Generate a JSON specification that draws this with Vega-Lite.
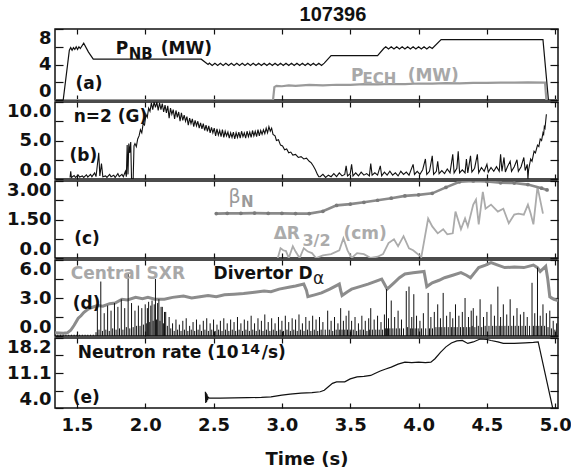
{
  "$schema": "https://vega.github.io/schema/vega-lite/v6.json",
  "title": {"text": "107396", "font": "Liberation Sans", "fontSize": 20, "fontWeight": "bold", "color": "#111", "anchor": "middle", "dx": 44, "offset": 3},
  "padding": {"left": 5, "right": 5, "top": 4, "bottom": 5},
  "spacing": 2,
  "bounds": "flush",
  "config": {
    "view": {"stroke": "#111", "strokeWidth": 1.5},
    "axis": {"domain": false, "grid": false, "tickColor": "#111", "tickWidth": 1.2, "labelFont": "DejaVu Sans", "labelFontWeight": "bold", "labelFontSize": 18, "labelColor": "#111", "titleFont": "DejaVu Sans", "titleFontWeight": "bold", "titleFontSize": 18, "titleColor": "#111"},
    "text": {"font": "DejaVu Sans", "fontWeight": "bold", "fontSize": 17, "align": "left", "baseline": "alphabetic"}
  },
  "datasets": {
    "nb": [
      {"t":1.34,"v":0},{"t":1.40,"v":0},{"t":1.445,"v":5.6},{"t":1.455,"v":5.9},{"t":1.465,"v":5.6},{"t":1.475,"v":5.9},{"t":1.485,"v":5.7},{"t":1.495,"v":6.0},{"t":1.505,"v":5.7},{"t":1.515,"v":6.0},{"t":1.525,"v":5.8},{"t":1.55,"v":6.4},{"t":1.585,"v":5.4},{"t":1.62,"v":4.6},{"t":2.41,"v":4.6},{"t":2.46,"v":4.0},
      {"t":2.47,"v":4.15},{"t":2.49,"v":3.9},{"t":2.51,"v":4.15},{"t":2.53,"v":3.9},{"t":2.55,"v":4.15},{"t":2.57,"v":3.9},{"t":2.59,"v":4.15},{"t":2.61,"v":3.9},{"t":2.63,"v":4.15},{"t":2.65,"v":3.9},{"t":2.67,"v":4.15},{"t":2.69,"v":3.9},{"t":2.71,"v":4.15},{"t":2.73,"v":3.9},{"t":2.75,"v":4.15},{"t":2.77,"v":3.9},{"t":2.79,"v":4.15},{"t":2.81,"v":3.9},{"t":2.83,"v":4.15},{"t":2.85,"v":3.9},{"t":2.87,"v":4.15},{"t":2.89,"v":3.9},{"t":2.91,"v":4.15},{"t":2.93,"v":3.9},{"t":2.95,"v":4.15},{"t":2.97,"v":3.9},{"t":2.99,"v":4.15},{"t":3.01,"v":3.9},{"t":3.03,"v":4.15},{"t":3.05,"v":3.9},{"t":3.07,"v":4.15},{"t":3.09,"v":3.9},{"t":3.11,"v":4.15},{"t":3.13,"v":3.9},{"t":3.15,"v":4.15},{"t":3.17,"v":3.9},{"t":3.19,"v":4.15},{"t":3.21,"v":3.9},{"t":3.23,"v":4.15},{"t":3.25,"v":3.9},{"t":3.27,"v":4.15},{"t":3.29,"v":3.9},{"t":3.31,"v":4.15},
      {"t":3.36,"v":5.0},{"t":3.70,"v":5.0},{"t":3.745,"v":5.8},{"t":3.76,"v":6.0},{"t":3.78,"v":5.75},{"t":3.80,"v":6.0},{"t":3.82,"v":5.75},{"t":3.84,"v":6.0},{"t":3.86,"v":5.75},{"t":3.88,"v":6.0},{"t":3.90,"v":5.75},{"t":3.92,"v":6.0},{"t":3.94,"v":5.75},{"t":3.96,"v":6.0},{"t":3.98,"v":5.75},{"t":4.00,"v":6.0},{"t":4.02,"v":5.75},{"t":4.04,"v":6.0},{"t":4.06,"v":5.75},{"t":4.08,"v":6.0},{"t":4.10,"v":5.8},{"t":4.165,"v":6.8},{"t":4.91,"v":6.8},{"t":4.95,"v":0},{"t":5.02,"v":0}
    ],
    "ech": [
      {"t":1.34,"v":0},{"t":2.935,"v":0},{"t":2.945,"v":1.45},{"t":2.96,"v":1.6},{"t":3.0,"v":1.55},{"t":3.05,"v":1.65},{"t":3.1,"v":1.6},{"t":3.2,"v":1.7},{"t":3.3,"v":1.65},{"t":3.4,"v":1.72},{"t":3.5,"v":1.7},{"t":3.6,"v":1.78},{"t":3.7,"v":1.75},{"t":3.8,"v":1.8},{"t":3.9,"v":1.8},{"t":4.0,"v":1.86},{"t":4.1,"v":1.84},{"t":4.2,"v":1.9},{"t":4.3,"v":1.88},{"t":4.4,"v":1.94},{"t":4.5,"v":1.92},{"t":4.6,"v":1.96},{"t":4.7,"v":1.95},{"t":4.8,"v":1.98},{"t":4.925,"v":1.96},{"t":4.935,"v":0},{"t":5.02,"v":0}
    ],
    "n2": [
      {"t":1.45,"v":0.2},{"t":1.455,"v":1.0},{"t":1.46,"v":0.2},{"t":1.48,"v":0.45},{"t":1.49,"v":0.2},{"t":1.51,"v":0.5},{"t":1.52,"v":0.25},{"t":1.54,"v":0.4},{"t":1.55,"v":0.2},{"t":1.57,"v":0.55},{"t":1.58,"v":0.25},{"t":1.60,"v":0.6},{"t":1.61,"v":0.3},{"t":1.63,"v":0.8},{"t":1.64,"v":0.3},{"t":1.66,"v":3.4},{"t":1.668,"v":0.4},{"t":1.68,"v":2.0},{"t":1.69,"v":0.3},{"t":1.71,"v":0.4},{"t":1.72,"v":0.2},{"t":1.74,"v":0.6},{"t":1.75,"v":0.3},{"t":1.77,"v":0.5},{"t":1.78,"v":0.2},{"t":1.80,"v":0.7},{"t":1.81,"v":0.3},{"t":1.83,"v":0.6},{"t":1.84,"v":0.3},{"t":1.855,"v":1.0},{"t":1.862,"v":0.3},{"t":1.868,"v":4.4},{"t":1.874,"v":0.6},{"t":1.88,"v":4.6},{"t":1.887,"v":3.4},{"t":1.894,"v":4.8},{"t":1.90,"v":0.0},{"t":1.912,"v":0.0},{"t":1.918,"v":4.3},
      {"t":1.925,"v":4.6},{"t":1.935,"v":4.2},{"t":1.945,"v":5.2},{"t":1.955,"v":5.6},{"t":1.965,"v":6.4},{"t":1.975,"v":6.0},{"t":1.985,"v":7.2},{"t":1.995,"v":7.0},{"t":2.005,"v":8.4},{"t":2.015,"v":8.0},{"t":2.025,"v":9.2},{"t":2.035,"v":8.8},{"t":2.045,"v":9.9},{"t":2.055,"v":9.0},{"t":2.065,"v":10.0},{"t":2.075,"v":9.3},{"t":2.085,"v":10.0},{"t":2.095,"v":8.9},{"t":2.105,"v":9.9},{"t":2.115,"v":9.0},{"t":2.125,"v":9.8},{"t":2.135,"v":8.7},{"t":2.145,"v":9.6},{"t":2.155,"v":8.6},{"t":2.165,"v":9.5},{"t":2.175,"v":7.9},{"t":2.185,"v":9.2},{"t":2.195,"v":8.4},{"t":2.205,"v":9.0},{"t":2.215,"v":7.8},{"t":2.225,"v":8.9},{"t":2.235,"v":8.0},{"t":2.245,"v":8.7},{"t":2.255,"v":7.5},{"t":2.265,"v":8.6},{"t":2.275,"v":7.6},{"t":2.285,"v":8.3},{"t":2.295,"v":7.5},{"t":2.305,"v":8.1},{"t":2.315,"v":7.0},{"t":2.325,"v":7.9},{"t":2.335,"v":7.2},{"t":2.345,"v":7.8},{"t":2.355,"v":6.8},{"t":2.365,"v":7.6},{"t":2.375,"v":6.9},{"t":2.385,"v":7.5},{"t":2.395,"v":6.6},{"t":2.405,"v":7.3},{"t":2.415,"v":6.5},{"t":2.425,"v":7.2},{"t":2.435,"v":6.3},{"t":2.445,"v":7.0},{"t":2.455,"v":6.2},{"t":2.465,"v":6.9},{"t":2.475,"v":6.0},{"t":2.485,"v":6.7},{"t":2.495,"v":6.0},{"t":2.505,"v":6.6},{"t":2.515,"v":5.6},{"t":2.525,"v":6.5},{"t":2.535,"v":5.7},{"t":2.545,"v":6.3},{"t":2.555,"v":5.5},{"t":2.565,"v":6.4},{"t":2.575,"v":5.4},{"t":2.585,"v":6.2},{"t":2.595,"v":5.6},{"t":2.605,"v":6.1},{"t":2.615,"v":5.3},{"t":2.625,"v":6.0},{"t":2.635,"v":5.4},{"t":2.645,"v":6.1},{"t":2.655,"v":5.2},{"t":2.665,"v":6.0},{"t":2.675,"v":5.4},{"t":2.685,"v":6.1},{"t":2.695,"v":5.3},{"t":2.705,"v":6.2},{"t":2.715,"v":5.5},{"t":2.725,"v":6.0},{"t":2.735,"v":5.3},{"t":2.745,"v":6.2},{"t":2.755,"v":5.5},{"t":2.765,"v":6.1},{"t":2.775,"v":5.4},{"t":2.785,"v":6.3},{"t":2.795,"v":5.6},{"t":2.805,"v":6.2},{"t":2.815,"v":5.5},{"t":2.825,"v":6.4},{"t":2.835,"v":5.6},{"t":2.845,"v":6.3},{"t":2.855,"v":5.8},{"t":2.865,"v":6.4},{"t":2.875,"v":5.9},{"t":2.885,"v":6.6},{"t":2.895,"v":6.0},{"t":2.905,"v":6.8},{"t":2.915,"v":6.2},{"t":2.925,"v":6.6},{"t":2.935,"v":5.8},{"t":2.95,"v":5.6},{"t":2.96,"v":5.0},{"t":2.975,"v":5.1},{"t":2.99,"v":4.4},{"t":3.005,"v":4.3},{"t":3.02,"v":3.8},{"t":3.035,"v":3.9},{"t":3.05,"v":3.4},{"t":3.065,"v":3.5},{"t":3.08,"v":3.1},{"t":3.10,"v":3.2},{"t":3.12,"v":2.8},{"t":3.14,"v":2.9},{"t":3.16,"v":2.6},{"t":3.18,"v":2.7},{"t":3.20,"v":2.3},{"t":3.215,"v":2.1},{"t":3.23,"v":1.7},{"t":3.245,"v":1.2},{"t":3.26,"v":0.6},{"t":3.27,"v":0.3},
      {"t":3.28,"v":0.3},{"t":3.30,"v":0.6},{"t":3.32,"v":0.2},{"t":3.34,"v":0.5},{"t":3.36,"v":0.3},{"t":3.38,"v":0.7},{"t":3.40,"v":0.3},{"t":3.42,"v":0.8},{"t":3.44,"v":0.4},{"t":3.46,"v":0.6},{"t":3.47,"v":1.7},{"t":3.48,"v":0.4},{"t":3.50,"v":0.7},{"t":3.51,"v":1.9},{"t":3.52,"v":0.4},{"t":3.54,"v":0.8},{"t":3.56,"v":0.4},{"t":3.58,"v":0.9},{"t":3.60,"v":0.5},{"t":3.62,"v":0.7},{"t":3.64,"v":0.4},{"t":3.65,"v":2.0},{"t":3.66,"v":0.5},{"t":3.68,"v":0.8},{"t":3.70,"v":0.5},{"t":3.72,"v":1.7},{"t":3.73,"v":0.4},{"t":3.75,"v":0.9},{"t":3.77,"v":0.5},{"t":3.79,"v":1.0},{"t":3.81,"v":0.5},{"t":3.83,"v":0.8},{"t":3.85,"v":0.4},{"t":3.87,"v":1.0},{"t":3.89,"v":0.6},{"t":3.91,"v":0.9},{"t":3.93,"v":0.5},{"t":3.96,"v":1.9},{"t":3.97,"v":0.6},{"t":3.99,"v":1.0},{"t":4.01,"v":0.6},{"t":4.03,"v":1.2},{"t":4.05,"v":2.6},{"t":4.06,"v":0.6},{"t":4.08,"v":1.0},{"t":4.10,"v":3.0},{"t":4.11,"v":0.6},{"t":4.13,"v":1.0},{"t":4.14,"v":2.3},{"t":4.15,"v":0.7},{"t":4.17,"v":1.1},{"t":4.19,"v":0.7},{"t":4.21,"v":1.3},{"t":4.23,"v":0.8},{"t":4.25,"v":3.2},{"t":4.26,"v":0.8},{"t":4.28,"v":1.4},{"t":4.29,"v":3.6},{"t":4.30,"v":0.8},{"t":4.32,"v":1.2},{"t":4.34,"v":0.8},{"t":4.35,"v":2.6},{"t":4.36,"v":0.8},{"t":4.38,"v":3.0},{"t":4.39,"v":0.9},{"t":4.41,"v":1.4},{"t":4.43,"v":3.2},{"t":4.44,"v":0.8},{"t":4.46,"v":1.5},{"t":4.48,"v":1.0},{"t":4.50,"v":1.9},{"t":4.51,"v":0.9},{"t":4.53,"v":1.5},{"t":4.55,"v":1.0},{"t":4.57,"v":1.6},{"t":4.59,"v":1.0},{"t":4.60,"v":3.2},{"t":4.61,"v":1.0},{"t":4.625,"v":2.8},{"t":4.635,"v":0.9},{"t":4.65,"v":1.6},{"t":4.67,"v":2.3},{"t":4.68,"v":1.0},{"t":4.70,"v":1.6},{"t":4.72,"v":2.5},{"t":4.73,"v":1.0},{"t":4.75,"v":1.6},{"t":4.77,"v":2.8},{"t":4.78,"v":1.1},{"t":4.795,"v":1.9},{"t":4.80,"v":0.0},{"t":4.805,"v":1.2},{"t":4.82,"v":2.6},{"t":4.83,"v":2.3},{"t":4.845,"v":3.6},{"t":4.855,"v":3.4},{"t":4.87,"v":4.4},{"t":4.88,"v":4.2},{"t":4.89,"v":5.2},{"t":4.90,"v":5.0},{"t":4.91,"v":6.0},{"t":4.915,"v":5.8},{"t":4.92,"v":6.8},{"t":4.925,"v":6.6},{"t":4.93,"v":7.5},{"t":4.935,"v":8.4}
    ],
    "bn": [
      {"t":2.52,"v":1.73},{"t":2.6,"v":1.74},{"t":2.7,"v":1.74},{"t":2.8,"v":1.75},{"t":2.9,"v":1.74},{"t":3.0,"v":1.74},{"t":3.1,"v":1.73},{"t":3.2,"v":1.73},{"t":3.3,"v":1.82},{"t":3.4,"v":2.05},{"t":3.5,"v":2.1},{"t":3.6,"v":2.17},{"t":3.7,"v":2.25},{"t":3.8,"v":2.33},{"t":3.9,"v":2.42},{"t":4.0,"v":2.46},{"t":4.1,"v":2.52},{"t":4.2,"v":2.75},{"t":4.3,"v":2.97},{"t":4.4,"v":3.0},{"t":4.5,"v":2.98},{"t":4.6,"v":2.93},{"t":4.7,"v":2.92},{"t":4.8,"v":2.86},{"t":4.9,"v":2.72},{"t":4.94,"v":2.65}
    ],
    "dr": [
      {"t":2.97,"v":0.0},{"t":2.99,"v":0.38},{"t":3.01,"v":0.3},{"t":3.03,"v":0.27},{"t":3.05,"v":0.0},{"t":3.08,"v":0.46},{"t":3.10,"v":0.25},{"t":3.13,"v":0.0},{"t":3.16,"v":0.38},{"t":3.19,"v":0.25},{"t":3.22,"v":0.19},{"t":3.25,"v":0.0},{"t":3.30,"v":0.1},{"t":3.36,"v":0.15},{"t":3.42,"v":0.3},{"t":3.45,"v":0.77},{"t":3.48,"v":0.3},{"t":3.51,"v":0.0},{"t":3.55,"v":0.19},{"t":3.60,"v":0.15},{"t":3.65,"v":0.0},{"t":3.70,"v":0.05},{"t":3.74,"v":0.15},{"t":3.78,"v":0.58},{"t":3.82,"v":0.73},{"t":3.85,"v":0.46},{"t":3.89,"v":0.85},{"t":3.93,"v":0.38},{"t":3.96,"v":0.3},{"t":4.02,"v":0.04},{"t":4.07,"v":1.54},{"t":4.10,"v":1.23},{"t":4.14,"v":0.96},{"t":4.18,"v":1.12},{"t":4.21,"v":0.92},{"t":4.25,"v":0.96},{"t":4.27,"v":1.81},{"t":4.31,"v":1.12},{"t":4.34,"v":1.54},{"t":4.36,"v":1.23},{"t":4.40,"v":2.08},{"t":4.42,"v":2.27},{"t":4.44,"v":1.31},{"t":4.47,"v":2.58},{"t":4.49,"v":1.92},{"t":4.53,"v":2.08},{"t":4.58,"v":1.81},{"t":4.62,"v":1.92},{"t":4.66,"v":1.35},{"t":4.70,"v":1.69},{"t":4.73,"v":1.73},{"t":4.77,"v":1.69},{"t":4.80,"v":2.08},{"t":4.82,"v":1.73},{"t":4.84,"v":1.31},{"t":4.87,"v":2.77},{"t":4.91,"v":1.73}
    ],
    "sxr": [
      {"t":1.34,"v":0.25},{"t":1.40,"v":0.22},{"t":1.43,"v":0.25},{"t":1.455,"v":0.45},{"t":1.48,"v":0.85},{"t":1.51,"v":1.4},{"t":1.53,"v":1.6},{"t":1.55,"v":1.85},{"t":1.58,"v":2.1},{"t":1.61,"v":2.25},{"t":1.65,"v":2.4},{"t":1.69,"v":2.35},{"t":1.74,"v":2.55},{"t":1.78,"v":2.6},{"t":1.83,"v":2.9},{"t":1.87,"v":2.85},{"t":1.93,"v":3.05},{"t":1.98,"v":2.95},{"t":2.02,"v":3.05},{"t":2.07,"v":2.9},{"t":2.14,"v":2.9},{"t":2.20,"v":3.05},{"t":2.28,"v":3.15},{"t":2.34,"v":3.0},{"t":2.40,"v":3.1},{"t":2.46,"v":3.2},{"t":2.52,"v":3.1},{"t":2.58,"v":3.25},{"t":2.65,"v":3.3},{"t":2.72,"v":3.35},{"t":2.80,"v":3.45},{"t":2.87,"v":3.55},{"t":2.92,"v":3.5},{"t":2.98,"v":3.7},{"t":3.05,"v":3.85},{"t":3.10,"v":3.95},{"t":3.16,"v":4.1},{"t":3.18,"v":3.6},{"t":3.19,"v":3.1},{"t":3.24,"v":3.25},{"t":3.29,"v":3.4},{"t":3.35,"v":3.7},{"t":3.42,"v":4.1},{"t":3.43,"v":3.6},{"t":3.44,"v":3.2},{"t":3.48,"v":3.5},{"t":3.51,"v":3.7},{"t":3.57,"v":3.9},{"t":3.63,"v":4.1},{"t":3.68,"v":4.3},{"t":3.73,"v":4.5},{"t":3.75,"v":4.1},{"t":3.77,"v":3.7},{"t":3.82,"v":4.2},{"t":3.86,"v":4.6},{"t":3.90,"v":4.9},{"t":3.96,"v":5.0},{"t":4.04,"v":5.1},{"t":4.05,"v":4.5},{"t":4.06,"v":3.9},{"t":4.10,"v":4.2},{"t":4.15,"v":4.4},{"t":4.19,"v":4.6},{"t":4.25,"v":4.8},{"t":4.31,"v":5.0},{"t":4.35,"v":4.8},{"t":4.38,"v":4.6},{"t":4.41,"v":5.0},{"t":4.44,"v":5.4},{"t":4.49,"v":5.6},{"t":4.53,"v":5.8},{"t":4.58,"v":5.6},{"t":4.63,"v":5.4},{"t":4.70,"v":5.45},{"t":4.77,"v":5.4},{"t":4.84,"v":5.6},{"t":4.87,"v":5.4},{"t":4.89,"v":5.1},{"t":4.91,"v":5.3},{"t":4.93,"v":5.5},{"t":4.945,"v":4.5},{"t":4.96,"v":3.1},{"t":4.99,"v":2.9},{"t":5.02,"v":2.8}
    ],
    "da": [
      {"t":1.34,"v":0.1},{"t":1.36,"v":0.1},{"t":1.38,"v":0.1},{"t":1.40,"v":0.1},{"t":1.42,"v":0.1},{"t":1.44,"v":0.1},{"t":1.46,"v":0.1},{"t":1.48,"v":0.1},{"t":1.50,"v":0.1},{"t":1.52,"v":0.1},{"t":1.54,"v":0.1},{"t":1.56,"v":0.1},{"t":1.58,"v":0.1},{"t":1.60,"v":0.1},{"t":1.62,"v":0.1},{"t":1.64,"v":0.3},
      {"t":1.650,"v":2.3},{"t":1.662,"v":0.5},{"t":1.675,"v":4.3},{"t":1.687,"v":0.4},{"t":1.700,"v":1.8},{"t":1.712,"v":0.5},{"t":1.725,"v":2.4},{"t":1.737,"v":0.4},{"t":1.750,"v":2.0},{"t":1.762,"v":0.6},{"t":1.775,"v":2.6},{"t":1.787,"v":0.5},{"t":1.800,"v":2.3},{"t":1.812,"v":0.6},{"t":1.825,"v":2.9},{"t":1.837,"v":0.5},{"t":1.850,"v":2.2},{"t":1.862,"v":0.7},{"t":1.875,"v":4.9},{"t":1.887,"v":0.6},{"t":1.900,"v":2.6},{"t":1.912,"v":0.7},{"t":1.925,"v":2.0},{"t":1.937,"v":0.8},{"t":1.950,"v":2.4},{"t":1.962,"v":0.8},{"t":1.975,"v":2.2},{"t":1.987,"v":0.9},{"t":2.000,"v":2.5},{"t":2.008,"v":1.0},{"t":2.016,"v":2.2},{"t":2.025,"v":2.7},{"t":2.033,"v":1.1},{"t":2.041,"v":2.4},{"t":2.050,"v":2.8},{"t":2.058,"v":1.2},{"t":2.066,"v":2.5},{"t":2.075,"v":4.5},{"t":2.083,"v":1.3},{"t":2.091,"v":2.6},{"t":2.100,"v":2.9},{"t":2.108,"v":1.2},{"t":2.116,"v":2.3},{"t":2.125,"v":2.3},{"t":2.133,"v":1.0},{"t":2.141,"v":1.9},{"t":2.150,"v":1.9},{"t":2.162,"v":0.8},{"t":2.175,"v":1.5},{"t":2.187,"v":0.6},
      {"t":2.200,"v":1.0},{"t":2.212,"v":0.4},{"t":2.225,"v":1.3},{"t":2.237,"v":0.5},{"t":2.250,"v":0.9},{"t":2.262,"v":0.4},{"t":2.275,"v":1.2},{"t":2.287,"v":0.5},{"t":2.300,"v":1.4},{"t":2.312,"v":0.4},{"t":2.325,"v":0.8},{"t":2.337,"v":0.5},{"t":2.350,"v":1.1},{"t":2.362,"v":0.4},{"t":2.375,"v":1.3},{"t":2.387,"v":0.5},{"t":2.400,"v":0.9},{"t":2.412,"v":0.4},{"t":2.425,"v":1.2},{"t":2.437,"v":0.5},{"t":2.450,"v":1.4},{"t":2.462,"v":0.4},{"t":2.475,"v":1.0},{"t":2.487,"v":0.5},{"t":2.500,"v":1.3},{"t":2.512,"v":0.4},{"t":2.525,"v":0.9},{"t":2.537,"v":0.5},{"t":2.550,"v":1.2},{"t":2.562,"v":0.4},{"t":2.575,"v":1.4},{"t":2.587,"v":0.5},{"t":2.600,"v":1.0},{"t":2.612,"v":0.4},{"t":2.625,"v":1.3},{"t":2.637,"v":0.5},{"t":2.650,"v":1.1},{"t":2.662,"v":0.4},{"t":2.675,"v":1.5},{"t":2.687,"v":0.5},{"t":2.700,"v":1.0},{"t":2.712,"v":0.4},{"t":2.725,"v":1.3},{"t":2.737,"v":0.5},{"t":2.750,"v":1.2},{"t":2.762,"v":0.4},{"t":2.775,"v":1.6},{"t":2.787,"v":0.5},{"t":2.800,"v":1.0},{"t":2.812,"v":0.4},{"t":2.825,"v":1.4},{"t":2.837,"v":0.5},{"t":2.850,"v":1.2},{"t":2.862,"v":0.4},{"t":2.875,"v":1.7},{"t":2.887,"v":0.5},{"t":2.900,"v":1.1},{"t":2.912,"v":0.4},{"t":2.925,"v":1.4},{"t":2.937,"v":0.5},{"t":2.950,"v":1.0},{"t":2.962,"v":0.4},{"t":2.975,"v":1.5},{"t":2.987,"v":0.5},{"t":3.000,"v":1.2},{"t":3.012,"v":0.4},{"t":3.025,"v":1.6},{"t":3.037,"v":0.5},{"t":3.050,"v":1.1},{"t":3.062,"v":0.4},{"t":3.075,"v":1.4},{"t":3.087,"v":0.5},{"t":3.100,"v":1.3},{"t":3.112,"v":0.4},{"t":3.125,"v":1.7},{"t":3.137,"v":0.5},{"t":3.150,"v":1.0},{"t":3.162,"v":0.4},{"t":3.175,"v":1.5},{"t":3.187,"v":0.5},{"t":3.200,"v":1.2},{"t":3.212,"v":0.4},{"t":3.225,"v":1.6},{"t":3.237,"v":0.5},{"t":3.250,"v":1.3},{"t":3.262,"v":0.4},{"t":3.275,"v":1.5},{"t":3.287,"v":0.5},{"t":3.300,"v":1.1},{"t":3.317,"v":0.5},{"t":3.335,"v":2.0},{"t":3.347,"v":0.5},{"t":3.360,"v":1.2},{"t":3.372,"v":0.4},{"t":3.385,"v":1.5},{"t":3.397,"v":0.5},{"t":3.410,"v":1.0},{"t":3.420,"v":0.5},{"t":3.430,"v":2.2},{"t":3.440,"v":0.5},{"t":3.450,"v":1.2},{"t":3.460,"v":0.5},{"t":3.470,"v":1.6},{"t":3.480,"v":0.5},{"t":3.490,"v":2.0},{"t":3.500,"v":0.5},{"t":3.510,"v":1.2},{"t":3.522,"v":0.5},{"t":3.535,"v":1.5},{"t":3.547,"v":0.4},{"t":3.560,"v":1.0},{"t":3.572,"v":0.5},{"t":3.585,"v":1.6},{"t":3.597,"v":0.5},{"t":3.610,"v":1.2},{"t":3.622,"v":0.4},{"t":3.635,"v":1.4},{"t":3.642,"v":0.5},{"t":3.650,"v":2.2},{"t":3.662,"v":0.5},{"t":3.675,"v":1.3},{"t":3.687,"v":0.5},{"t":3.700,"v":1.6},{"t":3.712,"v":0.5},{"t":3.725,"v":1.1},{"t":3.737,"v":0.5},{"t":3.750,"v":1.7},{"t":3.757,"v":0.6},{"t":3.765,"v":3.7},{"t":3.772,"v":0.6},{"t":3.780,"v":1.4},{"t":3.790,"v":0.6},{"t":3.800,"v":2.8},{"t":3.812,"v":0.6},{"t":3.825,"v":1.5},{"t":3.837,"v":0.6},{"t":3.850,"v":2.0},{"t":3.862,"v":0.6},{"t":3.875,"v":1.3},{"t":3.890,"v":0.6},{"t":3.910,"v":3.55},{"t":3.920,"v":0.7},{"t":3.930,"v":3.9},{"t":3.940,"v":0.6},{"t":3.950,"v":1.5},{"t":3.957,"v":0.6},{"t":3.965,"v":3.3},{"t":3.975,"v":0.6},{"t":3.985,"v":1.6},{"t":3.997,"v":0.6},{"t":4.010,"v":1.2},{"t":4.022,"v":0.6},{"t":4.035,"v":1.8},{"t":4.052,"v":0.6},{"t":4.070,"v":3.4},{"t":4.080,"v":0.6},{"t":4.090,"v":1.5},{"t":4.102,"v":0.6},{"t":4.115,"v":1.9},{"t":4.127,"v":0.7},{"t":4.140,"v":2.5},{"t":4.150,"v":0.7},{"t":4.160,"v":1.4},{"t":4.170,"v":0.7},{"t":4.180,"v":3.4},{"t":4.192,"v":0.7},{"t":4.205,"v":1.6},{"t":4.217,"v":0.7},{"t":4.230,"v":1.9},{"t":4.240,"v":0.7},{"t":4.250,"v":1.4},{"t":4.260,"v":0.7},{"t":4.270,"v":2.5},{"t":4.282,"v":0.7},{"t":4.295,"v":1.6},{"t":4.307,"v":0.7},{"t":4.320,"v":1.9},{"t":4.330,"v":0.7},{"t":4.340,"v":3.0},{"t":4.352,"v":0.7},{"t":4.365,"v":1.5},{"t":4.375,"v":0.7},{"t":4.385,"v":2.0},{"t":4.392,"v":0.8},{"t":4.400,"v":2.2},{"t":4.412,"v":0.7},{"t":4.425,"v":1.6},{"t":4.437,"v":0.8},{"t":4.450,"v":2.9},{"t":4.462,"v":0.7},{"t":4.475,"v":1.5},{"t":4.487,"v":0.8},{"t":4.500,"v":1.9},{"t":4.515,"v":0.8},{"t":4.530,"v":2.5},{"t":4.542,"v":0.8},{"t":4.555,"v":1.6},{"t":4.567,"v":0.8},{"t":4.580,"v":3.9},{"t":4.590,"v":0.8},{"t":4.600,"v":1.5},{"t":4.610,"v":0.8},{"t":4.620,"v":2.5},{"t":4.632,"v":0.8},{"t":4.645,"v":1.7},{"t":4.657,"v":0.8},{"t":4.670,"v":2.9},{"t":4.682,"v":0.8},{"t":4.695,"v":1.6},{"t":4.707,"v":0.8},{"t":4.720,"v":2.2},{"t":4.732,"v":0.8},{"t":4.745,"v":1.7},{"t":4.757,"v":0.8},{"t":4.770,"v":1.9},{"t":4.782,"v":0.8},{"t":4.795,"v":1.5},{"t":4.812,"v":0.8},{"t":4.830,"v":4.2},{"t":4.840,"v":0.8},{"t":4.850,"v":1.8},{"t":4.860,"v":0.8},{"t":4.870,"v":5.4},{"t":4.880,"v":0.8},{"t":4.890,"v":1.6},{"t":4.900,"v":0.8},{"t":4.910,"v":2.5},{"t":4.922,"v":0.8},{"t":4.935,"v":1.8},{"t":4.947,"v":0.7},{"t":4.960,"v":2.0},{"t":4.972,"v":0.6},{"t":4.985,"v":1.2},{"t":4.997,"v":0.5},{"t":5.010,"v":1.0}
    ],
    "neut": [
      {"t":2.44,"v":7.3},{"t":2.443,"v":5.0},{"t":2.446,"v":7.1},{"t":2.449,"v":5.2},{"t":2.452,"v":6.8},{"t":2.456,"v":5.6},{"t":2.46,"v":6.2},{"t":2.47,"v":6.0},{"t":2.55,"v":6.0},{"t":2.65,"v":6.05},{"t":2.75,"v":6.1},{"t":2.85,"v":6.15},{"t":2.92,"v":6.25},{"t":3.00,"v":6.6},{"t":3.06,"v":6.8},{"t":3.14,"v":7.0},{"t":3.22,"v":7.1},{"t":3.28,"v":7.3},{"t":3.31,"v":7.6},{"t":3.34,"v":8.3},{"t":3.37,"v":9.0},{"t":3.40,"v":9.3},{"t":3.46,"v":9.3},{"t":3.50,"v":9.9},{"t":3.55,"v":10.3},{"t":3.60,"v":10.4},{"t":3.65,"v":10.6},{"t":3.68,"v":11.0},{"t":3.72,"v":11.5},{"t":3.76,"v":11.9},{"t":3.80,"v":12.3},{"t":3.85,"v":12.9},{"t":3.90,"v":13.3},{"t":3.95,"v":13.2},{"t":4.00,"v":13.3},{"t":4.05,"v":13.2},{"t":4.09,"v":13.3},{"t":4.12,"v":14.0},{"t":4.16,"v":15.3},{"t":4.20,"v":16.4},{"t":4.24,"v":17.2},{"t":4.28,"v":17.6},{"t":4.32,"v":17.7},{"t":4.36,"v":17.1},{"t":4.40,"v":17.4},{"t":4.45,"v":18.0},{"t":4.50,"v":17.9},{"t":4.53,"v":17.7},{"t":4.58,"v":17.4},{"t":4.62,"v":17.1},{"t":4.70,"v":17.1},{"t":4.78,"v":17.2},{"t":4.84,"v":17.3},{"t":4.875,"v":17.4},{"t":4.985,"v":3.5}
    ]
  },
  "resolve": {"scale": {"y": "independent"}},
  "vconcat": [
    {
      "width": 503, "height": 71,
      "resolve": {"axis": {"x": "independent", "y": "independent"}},
      "encoding": {
        "x": {"field": "t", "type": "quantitative", "scale": {"domain": [1.34, 5.02], "nice": false, "zero": false}, "axis": null},
        "y": {"field": "v", "type": "quantitative", "scale": {"domain": [0, 8], "nice": false, "zero": false}, "axis": null}
      },
      "layer": [
        {"data": {"name": "ech"}, "mark": {"type": "line", "color": "#9a9a9a", "strokeWidth": 2.2, "clip": true},
         "encoding": {
           "x": {"field": "t", "type": "quantitative", "scale": {"domain": [1.34, 5.02], "nice": false, "zero": false}, "axis": {"orient": "bottom", "values": [1.5,2,2.5,3,3.5,4,4.5,5], "labels": false, "tickSize": -5, "title": null}},
           "y": {"field": "v", "type": "quantitative", "scale": {"domain": [0, 8], "nice": false, "zero": false}, "axis": {"orient": "left", "values": [0,2,4,6,8], "labelExpr": "datum.value % 4 == 0 ? format(datum.value, 'd') : ''", "tickSize": -8, "labelPadding": 12, "labelFlush": true, "title": null}}
         }},
        {"data": {"name": "nb"}, "mark": {"type": "line", "color": "#111", "strokeWidth": 1.2, "clip": true},
         "encoding": {
           "x": {"field": "t", "type": "quantitative", "scale": {"domain": [1.34, 5.02], "nice": false, "zero": false}, "axis": {"orient": "top", "values": [1.5,2,2.5,3,3.5,4,4.5,5], "labels": false, "tickSize": -5, "title": null}},
           "y": {"field": "v", "type": "quantitative", "scale": {"domain": [0, 8], "nice": false, "zero": false}, "axis": {"orient": "right", "values": [0,2,4,6,8], "labels": false, "tickSize": -8, "title": null}}
         }},
        {"data": {"values": [{"t": 1.784, "v": 5.18, "txt": "P"}, {"t": 2.114, "v": 5.18, "txt": "(MW)"}, {"t": 1.49, "v": 1.24, "txt": "(a)"}]},
         "mark": {"type": "text", "color": "#111"}, "encoding": {"text": {"field": "txt"}}},
        {"data": {"values": [{"t": 1.88, "v": 4.62, "txt": "NB"}]},
         "mark": {"type": "text", "color": "#111", "fontSize": 15}, "encoding": {"text": {"field": "txt"}}},
        {"data": {"values": [{"t": 3.505, "v": 2.14, "txt": "P"}, {"t": 3.92, "v": 2.14, "txt": "(MW)"}]},
         "mark": {"type": "text", "color": "#a8a8a8"}, "encoding": {"text": {"field": "txt"}}},
        {"data": {"values": [{"t": 3.59, "v": 1.8, "txt": "ECH"}]},
         "mark": {"type": "text", "color": "#a8a8a8", "fontSize": 15}, "encoding": {"text": {"field": "txt"}}}
      ]
    },
    {
      "width": 503, "height": 77,
      "resolve": {"axis": {"x": "independent", "y": "independent"}},
      "encoding": {
        "x": {"field": "t", "type": "quantitative", "scale": {"domain": [1.34, 5.02], "nice": false, "zero": false}, "axis": null},
        "y": {"field": "v", "type": "quantitative", "scale": {"domain": [0, 10], "nice": false, "zero": false}, "axis": null}
      },
      "layer": [
        {"data": {"name": "n2"}, "mark": {"type": "line", "color": "#111", "strokeWidth": 1.1, "clip": true},
         "encoding": {
           "x": {"field": "t", "type": "quantitative", "scale": {"domain": [1.34, 5.02], "nice": false, "zero": false}, "axis": {"orient": "bottom", "values": [1.5,2,2.5,3,3.5,4,4.5,5], "labels": false, "tickSize": -5, "title": null}},
           "y": {"field": "v", "type": "quantitative", "scale": {"domain": [0, 10], "nice": false, "zero": false}, "axis": {"orient": "left", "values": [0,2.5,5,7.5,10], "labelExpr": "datum.value % 5 == 0 ? format(datum.value, '.1f') : ''", "tickSize": -8, "labelPadding": 12, "labelFlush": true, "title": null}}
         }},
        {"data": {"name": "n2"}, "mark": {"type": "line", "opacity": 0, "clip": true},
         "encoding": {
           "x": {"field": "t", "type": "quantitative", "scale": {"domain": [1.34, 5.02], "nice": false, "zero": false}, "axis": {"orient": "top", "values": [1.5,2,2.5,3,3.5,4,4.5,5], "labels": false, "tickSize": -5, "title": null}},
           "y": {"field": "v", "type": "quantitative", "scale": {"domain": [0, 10], "nice": false, "zero": false}, "axis": {"orient": "right", "values": [0,2.5,5,7.5,10], "labels": false, "tickSize": -8, "title": null}}
         }},
        {"data": {"values": [{"t": 1.477, "v": 7.4, "txt": "n=2 (G)"}, {"t": 1.446, "v": 2.3, "txt": "(b)"}]},
         "mark": {"type": "text", "color": "#111"}, "encoding": {"text": {"field": "txt"}}}
      ]
    },
    {
      "width": 503, "height": 77,
      "resolve": {"axis": {"x": "independent", "y": "independent"}},
      "encoding": {
        "x": {"field": "t", "type": "quantitative", "scale": {"domain": [1.34, 5.02], "nice": false, "zero": false}, "axis": null},
        "y": {"field": "v", "type": "quantitative", "scale": {"domain": [0, 3], "nice": false, "zero": false}, "axis": null}
      },
      "layer": [
        {"data": {"name": "dr"}, "mark": {"type": "line", "color": "#ababab", "strokeWidth": 1.8, "clip": true},
         "encoding": {
           "x": {"field": "t", "type": "quantitative", "scale": {"domain": [1.34, 5.02], "nice": false, "zero": false}, "axis": {"orient": "bottom", "values": [1.5,2,2.5,3,3.5,4,4.5,5], "labels": false, "tickSize": -5, "title": null}},
           "y": {"field": "v", "type": "quantitative", "scale": {"domain": [0, 3], "nice": false, "zero": false}, "axis": {"orient": "left", "values": [0,0.75,1.5,2.25,3], "labelExpr": "datum.value == 0 ? '0.0' : datum.value == 1.5 ? '1.50' : datum.value == 3 ? '3.00' : ''", "tickSize": -8, "labelPadding": 12, "labelFlush": true, "title": null}}
         }},
        {"data": {"name": "bn"}, "mark": {"type": "line", "color": "#8a8a8a", "strokeWidth": 2.6, "clip": true},
         "encoding": {
           "x": {"field": "t", "type": "quantitative", "scale": {"domain": [1.34, 5.02], "nice": false, "zero": false}, "axis": {"orient": "top", "values": [1.5,2,2.5,3,3.5,4,4.5,5], "labels": false, "tickSize": -5, "title": null}},
           "y": {"field": "v", "type": "quantitative", "scale": {"domain": [0, 3], "nice": false, "zero": false}, "axis": {"orient": "right", "values": [0,0.75,1.5,2.25,3], "labels": false, "tickSize": -8, "title": null}}
         }},
        {"data": {"name": "bn"}, "mark": {"type": "point", "filled": true, "color": "#7a7a7a", "size": 14, "opacity": 1, "clip": true}},
        {"data": {"values": [{"t": 2.61, "v": 2.15, "txt": "β"}]},
         "mark": {"type": "text", "color": "#9a9a9a", "fontWeight": "normal", "fontSize": 19}, "encoding": {"text": {"field": "txt"}}},
        {"data": {"values": [{"t": 2.70, "v": 2.0, "txt": "N"}]},
         "mark": {"type": "text", "color": "#9a9a9a", "fontSize": 15}, "encoding": {"text": {"field": "txt"}}},
        {"data": {"values": [{"t": 2.94, "v": 0.73, "txt": "ΔR"}, {"t": 3.45, "v": 0.73, "txt": "(cm)"}]},
         "mark": {"type": "text", "color": "#ababab"}, "encoding": {"text": {"field": "txt"}}},
        {"data": {"values": [{"t": 3.15, "v": 0.46, "txt": "3/2"}]},
         "mark": {"type": "text", "color": "#ababab", "fontSize": 16}, "encoding": {"text": {"field": "txt"}}},
        {"data": {"values": [{"t": 1.48, "v": 0.54, "txt": "(c)"}]},
         "mark": {"type": "text", "color": "#111"}, "encoding": {"text": {"field": "txt"}}}
      ]
    },
    {
      "width": 503, "height": 76,
      "resolve": {"axis": {"x": "independent", "y": "independent"}},
      "encoding": {
        "x": {"field": "t", "type": "quantitative", "scale": {"domain": [1.34, 5.02], "nice": false, "zero": false}, "axis": null},
        "y": {"field": "v", "type": "quantitative", "scale": {"domain": [0, 6], "nice": false, "zero": false}, "axis": null}
      },
      "layer": [
        {"data": {"name": "sxr"}, "mark": {"type": "line", "color": "#8c8c8c", "strokeWidth": 3, "clip": true},
         "encoding": {
           "x": {"field": "t", "type": "quantitative", "scale": {"domain": [1.34, 5.02], "nice": false, "zero": false}, "axis": {"orient": "bottom", "values": [1.5,2,2.5,3,3.5,4,4.5,5], "labels": false, "tickSize": -5, "title": null}},
           "y": {"field": "v", "type": "quantitative", "scale": {"domain": [0, 6], "nice": false, "zero": false}, "axis": {"orient": "left", "values": [0,1.5,3,4.5,6], "labelExpr": "datum.value % 3 == 0 ? format(datum.value, '.1f') : ''", "tickSize": -8, "labelPadding": 12, "labelFlush": true, "title": null}}
         }},
        {"data": {"name": "da"}, "mark": {"type": "rule", "color": "#111", "strokeWidth": 1, "clip": true},
         "encoding": {
           "x": {"field": "t", "type": "quantitative", "scale": {"domain": [1.34, 5.02], "nice": false, "zero": false}, "axis": {"orient": "top", "values": [1.5,2,2.5,3,3.5,4,4.5,5], "labels": false, "tickSize": -5, "title": null}},
           "y": {"field": "v", "type": "quantitative", "scale": {"domain": [0, 6], "nice": false, "zero": false}, "axis": {"orient": "right", "values": [0,1.5,3,4.5,6], "labels": false, "tickSize": -8, "title": null}},
           "y2": {"datum": 0}
         }},
        {"data": {"values": [{"t": 1.455, "v": 4.5, "txt": "Central SXR"}]},
         "mark": {"type": "text", "color": "#a8a8a8"}, "encoding": {"text": {"field": "txt"}}},
        {"data": {"values": [{"t": 2.50, "v": 4.5, "txt": "Divertor D"}, {"t": 1.47, "v": 2.1, "txt": "(d)"}]},
         "mark": {"type": "text", "color": "#111"}, "encoding": {"text": {"field": "txt"}}},
        {"data": {"values": [{"t": 3.227, "v": 4.1, "txt": "α"}]},
         "mark": {"type": "text", "color": "#222", "fontWeight": "normal", "fontSize": 17}, "encoding": {"text": {"field": "txt"}}}
      ]
    },
    {
      "width": 503, "height": 70,
      "resolve": {"axis": {"x": "independent", "y": "independent"}},
      "encoding": {
        "x": {"field": "t", "type": "quantitative", "scale": {"domain": [1.34, 5.02], "nice": false, "zero": false}, "axis": null},
        "y": {"field": "v", "type": "quantitative", "scale": {"domain": [4, 18.2], "nice": false, "zero": false}, "axis": null}
      },
      "layer": [
        {"data": {"name": "neut"}, "mark": {"type": "line", "color": "#111", "strokeWidth": 1.2, "clip": true},
         "encoding": {
           "x": {"field": "t", "type": "quantitative", "scale": {"domain": [1.34, 5.02], "nice": false, "zero": false}, "axis": {"orient": "bottom", "values": [1.5,2,2.5,3,3.5,4,4.5,5], "format": ".1f", "tickSize": -5, "labelPadding": 13, "labelFlush": false, "title": "Time (s)", "titlePadding": 16}},
           "y": {"field": "v", "type": "quantitative", "scale": {"domain": [4, 18.2], "nice": false, "zero": false}, "axis": {"orient": "left", "values": [4, 7.55, 11.1, 14.65, 18.2], "labelExpr": "datum.value == 4 ? '4.0' : datum.value == 11.1 ? '11.1' : datum.value == 18.2 ? '18.2' : ''", "tickSize": -8, "labelPadding": 12, "labelFlush": true, "title": null}}
         }},
        {"data": {"name": "neut"}, "mark": {"type": "line", "opacity": 0, "clip": true},
         "encoding": {
           "x": {"field": "t", "type": "quantitative", "scale": {"domain": [1.34, 5.02], "nice": false, "zero": false}, "axis": {"orient": "top", "values": [1.5,2,2.5,3,3.5,4,4.5,5], "labels": false, "tickSize": -5, "title": null}},
           "y": {"field": "v", "type": "quantitative", "scale": {"domain": [4, 18.2], "nice": false, "zero": false}, "axis": {"orient": "right", "values": [4, 7.55, 11.1, 14.65, 18.2], "labels": false, "tickSize": -8, "title": null}}
         }},
        {"data": {"values": [{"t": 1.506, "v": 14.1, "txt": "Neutron rate (10"}, {"t": 2.852, "v": 14.1, "txt": "/s)"}, {"t": 1.47, "v": 5.0, "txt": "(e)"}]},
         "mark": {"type": "text", "color": "#111"}, "encoding": {"text": {"field": "txt"}}},
        {"data": {"values": [{"t": 2.698, "v": 14.95, "txt": "14"}]},
         "mark": {"type": "text", "color": "#111", "fontSize": 14, "baseline": "alphabetic"}, "encoding": {"text": {"field": "txt"}}}
      ]
    }
  ]
}
